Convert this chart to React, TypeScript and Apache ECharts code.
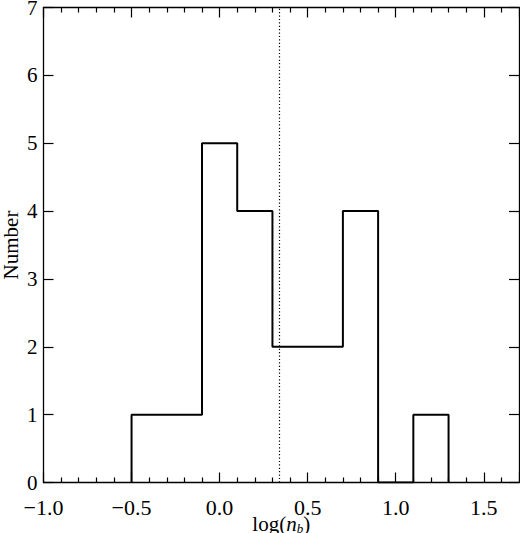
import * as echarts from "echarts";
import { useEffect, useRef } from "react";

// histogram bin edges and counts
const binEdges = [-0.5, -0.1, 0.1, 0.3, 0.7, 0.9, 1.1, 1.3];
const binCounts = [1, 5, 4, 2, 4, 0, 1];
const medianLine = 0.34;

const xRange = [-1.0, 1.7];
const yRange = [0, 7];

// step outline built from the bins
const stepPoints: number[][] = [[binEdges[0], 0]];
binCounts.forEach((c, i) => {
	stepPoints.push([binEdges[i], c]);
	stepPoints.push([binEdges[i + 1], c]);
});
stepPoints.push([binEdges[binEdges.length - 1], 0]);

const font = "Liberation Serif";
const axisColor = "#000";

const fmtX = (v: number) => {
	const s = Math.abs(v).toFixed(1);
	return v < -1e-9 ? "\u2212" + s : s;
};

const xCommon = {
	type: "value" as const,
	min: xRange[0],
	max: xRange[1],
	interval: 0.5,
	splitLine: { show: false },
	axisLine: { show: true, onZero: false, lineStyle: { color: axisColor, width: 1.3 } },
	axisTick: { show: true, inside: true, length: 10, lineStyle: { color: axisColor, width: 1.2 } },
	minorTick: { show: true, splitNumber: 5, length: 5, lineStyle: { color: axisColor, width: 1.2 } },
	minorSplitLine: { show: false }
};

const yCommon = {
	type: "value" as const,
	min: yRange[0],
	max: yRange[1],
	interval: 1,
	splitLine: { show: false },
	axisLine: { show: true, onZero: false, lineStyle: { color: axisColor, width: 1.3 } },
	axisTick: { show: true, inside: true, length: 10, lineStyle: { color: axisColor, width: 1.2 } }
};

const option: echarts.EChartsOption = {
	animation: false,
	backgroundColor: "#fff",
	grid: {
		left: 43.5,
		top: 7.5,
		right: 1,
		bottom: 50.5,
		containLabel: false,
		outerBoundsMode: "none"
	} as any,
	xAxis: [
		{
			...xCommon,
			position: "bottom",
			name: "{a|log(}{i|n}{s|b}{a|)}",
			nameLocation: "middle",
			nameGap: 32,
			nameMoveOverlap: false,
			nameTextStyle: {
				lineHeight: 18,
				rich: {
					a: { fontFamily: font, fontSize: 21, lineHeight: 18, color: "#000" },
					i: { fontFamily: font, fontSize: 21, lineHeight: 18, fontStyle: "italic", color: "#000" },
					s: { fontFamily: font, fontSize: 13, lineHeight: 8, padding: [10, 0, 0, 0], fontStyle: "italic", color: "#000" }
				}
			},
			axisLabel: {
				show: true,
				margin: 18,
				lineHeight: 14,
				showMaxLabel: false,
				fontFamily: font,
				fontSize: 22,
				color: "#000",
				formatter: (v: number) => fmtX(v)
			}
		} as any,
		{
			...xCommon,
			position: "top",
			axisLabel: { show: false }
		}
	],
	yAxis: [
		{
			...yCommon,
			position: "left",
			name: "Number",
			nameLocation: "middle",
			nameGap: 24,
			nameMoveOverlap: false,
			nameTextStyle: { fontFamily: font, fontSize: 21, lineHeight: 18, color: "#000" },
			axisLabel: { margin: 6, fontFamily: font, fontSize: 21, lineHeight: 16, color: "#000" }
		} as any,
		{
			...yCommon,
			position: "right",
			axisLabel: { show: false }
		}
	],
	series: [
		{
			type: "line",
			xAxisIndex: 0,
			yAxisIndex: 0,
			data: stepPoints,
			symbol: "none",
			lineStyle: { color: "#000", width: 2 },
			markLine: {
				silent: true,
				symbol: "none",
				label: { show: false },
				lineStyle: { color: "#000", type: [1.2, 2.2], width: 1.2 },
				data: [{ xAxis: medianLine }]
			}
		}
	]
};

const App = () => {
	const chartRef = useRef<HTMLDivElement>(null);

	useEffect(() => {
		const chart = echarts.init(chartRef.current!, undefined, { renderer: "svg" });
		chart.setOption(option);

		return () => {
			chart.dispose();
		};
	}, []);

	return (
		<div
			ref={chartRef}
			style={{ position: "fixed", left: 0, top: 0, width: "520px", height: "533px" }}
		/>
	);
};

export default App;
